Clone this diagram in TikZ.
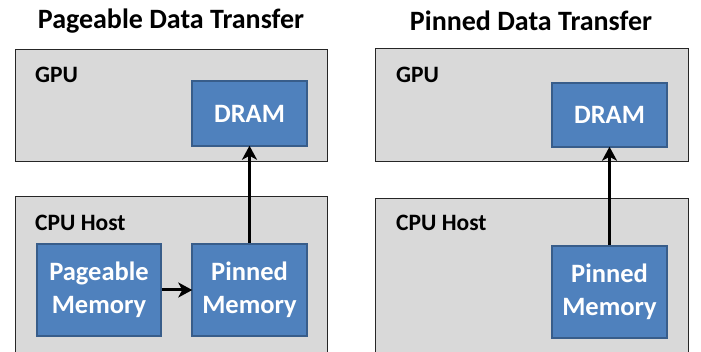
\documentclass[tikz,border=0pt]{standalone}
\usepackage{fontspec}
\setmainfont{Carlito}
\usetikzlibrary{arrows.meta}
\definecolor{boxgray}{HTML}{D9D9D9}
\definecolor{boxblue}{HTML}{4F81BD}
\definecolor{blueedge}{HTML}{385D8A}
\tikzset{
  panel/.style={draw=black!85, line width=1pt, fill=boxgray, minimum width=#1, inner sep=0pt},
  mem/.style={draw=blueedge, line width=1.5pt, fill=boxblue, text=white, font=\fontsize{26.5}{33}\selectfont\bfseries, align=center, inner sep=0pt},
  lbl/.style={font=\fontsize{23.5}{26}\selectfont\bfseries, anchor=west, inner sep=0pt},
  ttl/.style={font=\fontsize{28}{30}\selectfont\bfseries, inner sep=0pt},
  flow/.style={-{Stealth[length=14pt,width=15pt,inset=4pt]}, line width=3pt, shorten >=-1pt}
}
\begin{document}
\begin{tikzpicture}[x=1pt,y=-1pt]
\clip (0,0) rectangle (701,352);
\fill[white] (0,0) rectangle (701,352);
% left panel
\node[ttl] (tL) at (171,21) {Pageable Data Transfer};
\node[panel=312pt, minimum height=112pt] (gpuL) at (171,105.5) {};
\node[panel=312pt, minimum height=173pt] (cpuL) at (171,283.5) {};
\node[lbl] (gL) at (35,75) {GPU};
\node[lbl] (cL) at (35,223) {CPU Host};
\node[mem, minimum width=115pt, minimum height=65pt] (dramL) at (249.5,113.5) {DRAM};
\node[mem, minimum width=124pt, minimum height=92pt] (pageL) at (99,290) {Pageable\\Memory};
\node[mem, minimum width=115pt, minimum height=92pt] (pinL) at (249.5,290) {Pinned\\Memory};
\draw[flow] (pageL.east) -- (pinL.west);
\draw[flow] (pinL.north) -- (dramL.south);
% right panel
\node[ttl] (tR) at (531,21) {Pinned Data Transfer};
\node[panel=313pt, minimum height=113pt] (gpuR) at (531.5,105.5) {};
\node[panel=313pt, minimum height=173pt] (cpuR) at (531.5,285.5) {};
\node[lbl] (gR) at (396,75) {GPU};
\node[lbl] (cR) at (396,223) {CPU Host};
\node[mem, minimum width=115pt, minimum height=64pt] (dramR) at (609.5,115) {DRAM};
\node[mem, minimum width=115pt, minimum height=92pt] (pinR) at (609.5,292) {Pinned\\Memory};
\draw[flow] (pinR.north) -- (dramR.south);
\end{tikzpicture}
\end{document}
